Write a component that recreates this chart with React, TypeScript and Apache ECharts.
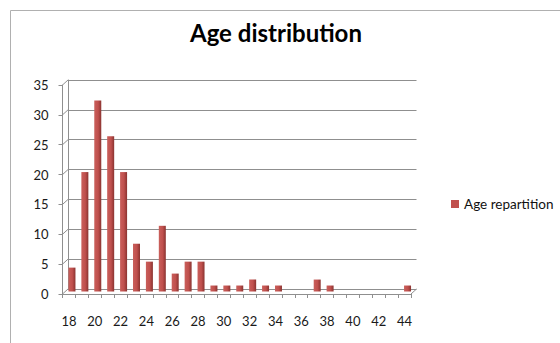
import React, { useEffect, useRef } from "react";
import * as echarts from "echarts";

const ages: string[] = ["18","19","20","21","22","23","24","25","26","27","28","29","30","31","32","33","34","35","36","37","38","39","40","41","42","43","44"];
const counts: number[] = [4,20,32,26,20,8,5,11,3,5,5,1,1,1,2,1,1,0,0,2,1,0,0,0,0,0,1];
const yTicks: number[] = [0,5,10,15,20,25,30,35];
const seriesName = "Age repartition";
const titleText = "Age distribution";

const FONT = "Lato, 'Open Sans', sans-serif";
const GRID_COLOR = "#8f8f8f";

export default function App() {
  const ref = useRef<HTMLDivElement>(null);
  useEffect(() => {
    if (!ref.current) return;
    const chart = echarts.init(ref.current, undefined, { renderer: "svg" });
    const barColor = new echarts.graphic.LinearGradient(0, 0, 1, 0, [
      { offset: 0, color: "#c95f5b" },
      { offset: 0.55, color: "#c0504d" },
      { offset: 1, color: "#8a3330" },
    ]);
    chart.setOption({
      animation: false,
      backgroundColor: "#ffffff",
      title: {
        text: titleText,
        left: 185,
        top: 15,
        textStyle: { fontFamily: FONT, fontSize: 24, fontWeight: "bold", color: "#000" },
      },
      legend: {
        left: 446,
        top: 192,
        orient: "vertical",
        icon: "rect",
        itemWidth: 8,
        itemHeight: 8,
        textStyle: { fontFamily: FONT, fontSize: 13.5, color: "#111" },
        data: [{ name: seriesName, itemStyle: { color: "#c0504d" } }],
      },
      grid: [
        { left: 68, right: 143.5, top: 80, bottom: 54 },
        { left: 62.5, right: 149, top: 85, bottom: 49 },
        { left: 65.5, right: 146, top: 82.5, bottom: 51.5 },
      ],
      xAxis: [
        { type: "category", gridIndex: 0, data: ages, show: false },
        {
          type: "category",
          gridIndex: 1,
          data: ages,
          axisLine: { lineStyle: { color: GRID_COLOR } },
          axisTick: { show: true, interval: 0, length: 4, lineStyle: { color: GRID_COLOR } },
          axisLabel: { interval: 1, margin: 20, fontFamily: FONT, fontSize: 13, color: "#1a1a1a" },
          splitLine: { show: false },
        },
        { type: "category", gridIndex: 2, data: ages, show: false },
      ],
      yAxis: [
        {
          type: "value",
          gridIndex: 0,
          min: 0,
          max: 35,
          interval: 5,
          axisLabel: { show: false },
          axisTick: { show: false },
          axisLine: { show: true, lineStyle: { color: GRID_COLOR } },
          splitLine: { show: true, lineStyle: { color: GRID_COLOR, width: 1 } },
        },
        {
          type: "value",
          gridIndex: 1,
          min: 0,
          max: 35,
          interval: 5,
          axisLabel: {
            margin: 14,
            fontFamily: FONT,
            fontSize: 13,
            color: "#1a1a1a",
            formatter: (v: number) => (yTicks.includes(v) ? String(v) : ""),
          },
          axisTick: { show: true, length: 4, lineStyle: { color: GRID_COLOR } },
          axisLine: { show: true, lineStyle: { color: GRID_COLOR } },
          splitLine: { show: false },
        },
        { type: "value", gridIndex: 2, min: 0, max: 35, interval: 5, show: false, splitLine: { show: false } },
      ],
      series: [
        {
          name: seriesName,
          type: "bar",
          xAxisIndex: 2,
          yAxisIndex: 2,
          data: counts,
          barWidth: 7,
          itemStyle: { color: barColor },
        },
      ],
    });

    // 3D side-wall connectors and floor edges, computed from axes
    const lines: any[] = [];
    const frontX0 = chart.convertToPixel({ xAxisIndex: 1 }, ages[0]) as number;
    const backX0 = chart.convertToPixel({ xAxisIndex: 0 }, ages[0]) as number;
    const stepF = (chart.convertToPixel({ xAxisIndex: 1 }, ages[1]) as number) - frontX0;
    const stepB = (chart.convertToPixel({ xAxisIndex: 0 }, ages[1]) as number) - backX0;
    const fLeft = frontX0 - stepF / 2;
    const bLeft = backX0 - stepB / 2;
    const fRight = fLeft + stepF * ages.length;
    const bRight = bLeft + stepB * ages.length;
    yTicks.forEach((v) => {
      const fy = chart.convertToPixel({ yAxisIndex: 1 }, v) as number;
      const by = chart.convertToPixel({ yAxisIndex: 0 }, v) as number;
      lines.push({
        type: "line",
        shape: { x1: fLeft, y1: fy, x2: bLeft, y2: by },
        style: { stroke: GRID_COLOR, lineWidth: 1 },
        silent: true,
      });
    });
    const fy0 = chart.convertToPixel({ yAxisIndex: 1 }, 0) as number;
    const by0 = chart.convertToPixel({ yAxisIndex: 0 }, 0) as number;
    lines.push({
      type: "line",
      shape: { x1: fRight, y1: fy0, x2: bRight, y2: by0 },
      style: { stroke: GRID_COLOR, lineWidth: 1 },
      silent: true,
    });
    chart.setOption({
      graphic: [
        {
          type: "rect",
          shape: { x: 10.5, y: 10.5, width: 700, height: 500 },
          style: { fill: "none", stroke: "#b0b0b0", lineWidth: 1 },
          silent: true,
          z: -10,
        },
        ...lines,
      ],
    });
    return () => chart.dispose();
  }, []);
  return <div ref={ref} style={{ width: 560, height: 343, position: "absolute", left: 0, top: 0 }} />;
}
